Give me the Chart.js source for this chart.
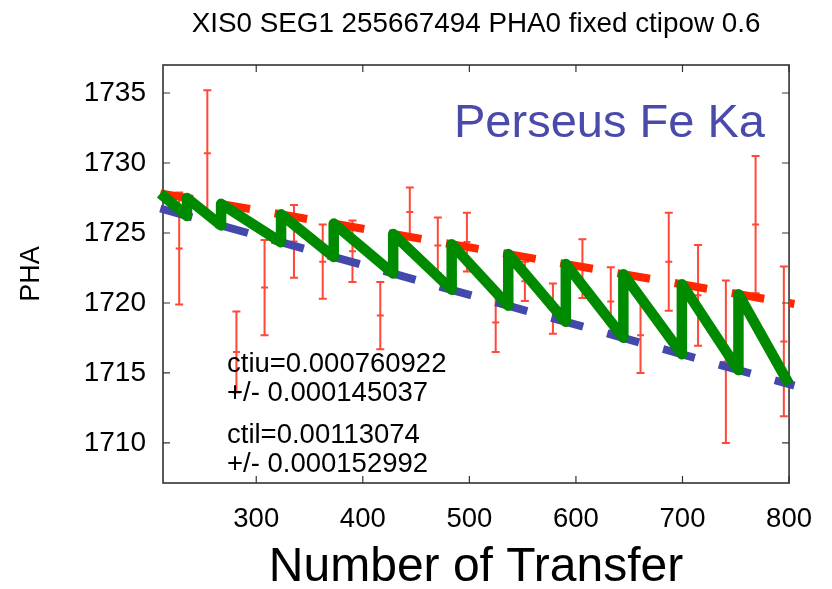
<!DOCTYPE html>
<html>
<head>
<meta charset="utf-8">
<script src="https://cdn.jsdelivr.net/npm/chart.js@4.4.1/dist/chart.umd.min.js"></script>
<style>
  html, body { margin: 0; padding: 0; background: #fff; }
</style>
</head>
<body>
<canvas id="ctiChart" width="832" height="589"></canvas>
<script>
// measured PHA per transfer count, with 1-sigma errors
const errX = [227.7, 254.1, 281.4, 307.8, 335.4, 362.4, 390.3, 416.4, 444.1, 470.4, 497.7,
              524.7, 552.1, 578.4, 606.1, 632.7, 660.6, 687.1, 714.6, 740.7, 768.6, 795.1]
const errY = [1723.9, 1730.7, 1716.5, 1721.1, 1724.4, 1722.95, 1723.7, 1719.1, 1726.5, 1724.1, 1724.35,
              1718.6, 1721.55, 1719.6, 1722.45, 1720.1, 1717.7, 1722.95, 1720.55, 1715.8, 1725.6, 1717.25]
const errE = [4.0, 4.5, 2.9, 3.4, 2.6, 2.65, 2.2, 2.4, 1.75, 2.0, 2.1,
              2.1, 1.4, 1.8, 2.1, 2.45, 2.7, 3.5, 3.6, 5.8, 4.9, 5.35]

// upper (ctiu) and lower (ctil) model lines
const upperX = [210, 805]
const upperY = [1727.83, 1719.93]
const lowerX = [210, 805]
const lowerY = [1726.75, 1714.09]

// sawtooth model: drops along ctil, jumps back to ctiu
const sawX = [210, 235, 235, 267, 267, 323.3, 323.3, 372.7, 372.7, 428.5, 428.5, 483.4, 483.4,
              536.5, 536.5, 590.5, 590.5, 644.5, 644.5, 699.4, 699.4, 752.5, 752.5, 800]
const sawY = [1727.83, 1726.22, 1727.5, 1725.54, 1727.08, 1724.34, 1726.33, 1723.29, 1725.67,
              1722.10, 1724.93, 1720.94, 1724.20, 1719.81, 1723.50, 1718.66, 1722.78, 1717.51,
              1722.06, 1716.34, 1721.34, 1715.21, 1720.63, 1714.2]

const FONT = '"Liberation Sans", Arial, Helvetica, sans-serif'
const toPoints = (xs, ys) => xs.map((x, i) => ({ x: x, y: ys[i] }))

const errorBars = {
	id: 'errorBars',
	beforeDatasetsDraw(chart) {
		const { ctx, scales: { x, y } } = chart
		ctx.save()
		ctx.strokeStyle = 'rgba(255, 40, 20, 0.85)'
		ctx.lineWidth = 2
		errX.forEach((v, i) => {
			const px = x.getPixelForValue(v)
			const top = y.getPixelForValue(errY[i] + errE[i])
			const mid = y.getPixelForValue(errY[i])
			const bot = y.getPixelForValue(errY[i] - errE[i])
			ctx.beginPath()
			ctx.moveTo(px, top); ctx.lineTo(px, bot)
			ctx.moveTo(px - 4, top); ctx.lineTo(px + 4, top)
			ctx.moveTo(px - 4, bot); ctx.lineTo(px + 4, bot)
			ctx.moveTo(px - 3.5, mid); ctx.lineTo(px + 3.5, mid)
			ctx.stroke()
		})
		ctx.restore()
	},
}

// box border with inward ticks on all four sides
const frame = {
	id: 'frame',
	beforeDatasetsDraw(chart) {
		const { ctx, chartArea: a, scales: { x, y } } = chart
		const len = 7
		ctx.save()
		ctx.strokeStyle = '#333'
		ctx.lineWidth = 1.6
		ctx.strokeRect(a.left, a.top, a.right - a.left, a.bottom - a.top)
		ctx.lineWidth = 1.2
		ctx.beginPath()
		x.ticks.forEach(t => {
			const px = x.getPixelForValue(t.value)
			ctx.moveTo(px, a.bottom); ctx.lineTo(px, a.bottom - len)
			ctx.moveTo(px, a.top); ctx.lineTo(px, a.top + len)
		})
		y.ticks.forEach(t => {
			const py = y.getPixelForValue(t.value)
			ctx.moveTo(a.left, py); ctx.lineTo(a.left + len, py)
			ctx.moveTo(a.right, py); ctx.lineTo(a.right - len, py)
		})
		ctx.stroke()
		ctx.restore()
	},
}

const labels = {
	id: 'labels',
	afterDraw(chart) {
		const { ctx, chartArea: a } = chart
		ctx.save()
		ctx.fillStyle = '#000'
		ctx.textBaseline = 'alphabetic'
		ctx.textAlign = 'center'
		ctx.font = '27.8px ' + FONT
		ctx.fillText('XIS0 SEG1 255667494 PHA0 fixed ctipow 0.6', (a.left + a.right) / 2, 32)

		ctx.textAlign = 'left'
		ctx.font = '27.5px ' + FONT
		ctx.fillText('ctiu=0.000760922', 227, 371.5)
		ctx.fillText('+/- 0.000145037', 227, 401)
		ctx.fillText('ctil=0.00113074', 227, 442.5)
		ctx.fillText('+/- 0.000152992', 227, 471.5)

		ctx.fillStyle = '#4a4aaa'
		ctx.font = '47px ' + FONT
		ctx.fillText('Perseus Fe Ka', 454, 136.5)
		ctx.restore()
	},
}

const ctx = document.getElementById('ctiChart').getContext('2d')
const ctiChart = new Chart(ctx, {
	type: 'line',
	data: {
		datasets: [
			{
				label: 'sawtooth',
				data: toPoints(sawX, sawY),
				borderColor: '#008a00',
				borderWidth: 10.5,
				borderJoinStyle: 'round',
				borderCapStyle: 'butt',
				pointRadius: 0,
				clip: false,
			},
			{
				label: 'ctiu',
				data: toPoints(upperX, upperY),
				borderColor: '#ff2600',
				borderWidth: 8,
				borderDash: [33, 25],
				borderCapStyle: 'butt',
				pointRadius: 0,
				clip: false,
			},
			{
				label: 'ctil',
				data: toPoints(lowerX, lowerY),
				borderColor: '#4448aa',
				borderWidth: 8,
				borderDash: [33, 25],
				borderCapStyle: 'butt',
				pointRadius: 0,
				clip: false,
			},
		],
	},
	options: {
		responsive: false,
		animation: false,
		devicePixelRatio: 1,
		layout: { padding: { top: 65, right: 38, left: 0, bottom: 0 } },
		plugins: {
			legend: { display: false },
			tooltip: { enabled: false },
		},
		scales: {
			x: {
				type: 'linear',
				min: 212.5,
				max: 800,
				grid: { display: false, drawTicks: false },
				border: { display: false },
				ticks: {
					stepSize: 100,
					includeBounds: false,
					padding: 20,
					color: '#000',
					font: { family: FONT, size: 27.5, lineHeight: 1.2 },
					callback: v => String(v),
				},
				title: {
					display: true,
					text: 'Number of Transfer',
					color: '#000',
					padding: { top: 0, bottom: 0 },
					font: { family: FONT, size: 48, lineHeight: 0.9 },
				},
				afterFit: scale => { scale.height = 106 },
			},
			y: {
				type: 'linear',
				min: 1707.14,
				max: 1737,
				grid: { display: false, drawTicks: false },
				border: { display: false },
				ticks: {
					stepSize: 5,
					includeBounds: false,
					padding: 17,
					color: '#000',
					font: { family: FONT, size: 28 },
					callback: v => String(v),
				},
				title: {
					display: true,
					text: 'PHA',
					color: '#000',
					padding: { top: 18.5, bottom: 0 },
					font: { family: FONT, size: 27, lineHeight: 1 },
				},
				afterFit: scale => { scale.width = 163 },
			},
		},
	},
	plugins: [frame, errorBars, labels],
})
</script>
</body>
</html>
